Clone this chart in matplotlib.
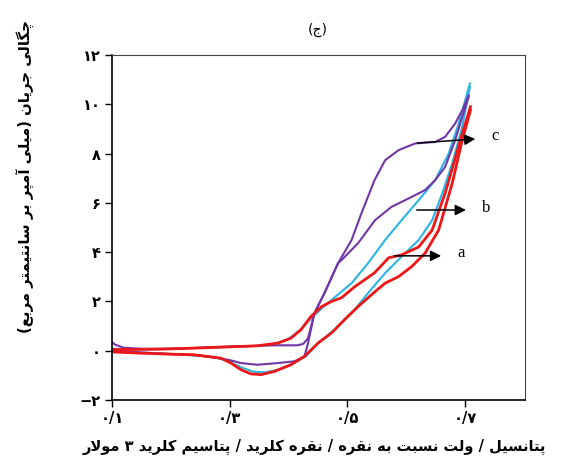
"""Cyclic voltammograms (a, b, c) with Persian labels."""

import matplotlib
matplotlib.use("Agg")
import matplotlib.pyplot as plt

# curve a (red), two branches
a_up_x = [0.10, 0.13, 0.176, 0.233, 0.29, 0.347, 0.382, 0.404, 0.421, 0.438, 0.456, 0.473, 0.49,
          0.512, 0.546, 0.570, 0.592, 0.621, 0.644, 0.666, 0.683, 0.695, 0.709]
a_up_y = [0.05, 0.05, 0.06, 0.10, 0.15, 0.20, 0.31, 0.51, 0.85, 1.39, 1.79, 2.00, 2.15,
          2.59, 3.16, 3.77, 3.89, 4.21, 4.90, 6.40, 7.80, 8.80, 9.90]
a_dn_x = [0.10, 0.15, 0.20, 0.238, 0.285, 0.302, 0.319, 0.336, 0.353, 0.376, 0.404, 0.427, 0.45,
          0.473, 0.495, 0.518, 0.547, 0.564, 0.587, 0.609, 0.632, 0.655, 0.678, 0.695, 0.709]
a_dn_y = [-0.05, -0.10, -0.14, -0.16, -0.30, -0.50, -0.77, -0.94, -0.97, -0.84, -0.57, -0.23, 0.31,
          0.72, 1.26, 1.79, 2.40, 2.74, 3.01, 3.41, 3.96, 4.90, 6.79, 8.54, 9.76]

# curve b (cyan)
b_up_x = [0.10, 0.15, 0.20, 0.25, 0.30, 0.35, 0.38, 0.40, 0.42, 0.44, 0.46, 0.48, 0.507,
          0.535, 0.564, 0.592, 0.621, 0.649, 0.672, 0.689, 0.708]
b_up_y = [0.08, 0.06, 0.08, 0.12, 0.15, 0.20, 0.30, 0.48, 0.85, 1.35, 1.80, 2.20, 2.74,
          3.55, 4.49, 5.30, 6.11, 6.92, 8.00, 9.22, 10.84]
b_dn_x = [0.10, 0.15, 0.20, 0.25, 0.28, 0.30, 0.32, 0.34, 0.36, 0.38, 0.40, 0.43, 0.45,
          0.48, 0.51, 0.535, 0.564, 0.592, 0.621, 0.644, 0.661, 0.678, 0.695, 0.708]
b_dn_y = [-0.03, -0.08, -0.14, -0.20, -0.30, -0.45, -0.68, -0.85, -0.88, -0.78, -0.60, -0.22, 0.30,
          0.90, 1.60, 2.34, 3.15, 3.82, 4.49, 5.30, 6.38, 7.60, 9.08, 10.70]

# curve c (purple)
c_up_x = [0.10, 0.105, 0.12, 0.15, 0.20, 0.25, 0.30, 0.35, 0.38, 0.40, 0.415, 0.425, 0.433,
          0.444, 0.461, 0.484, 0.507, 0.524, 0.546, 0.564, 0.587, 0.615, 0.649, 0.666, 0.683,
          0.695, 0.706]
c_up_y = [0.35, 0.25, 0.12, 0.08, 0.08, 0.12, 0.17, 0.20, 0.22, 0.22, 0.22, 0.28, 0.50,
          1.53, 2.34, 3.55, 4.49, 5.59, 6.92, 7.73, 8.14, 8.41, 8.47, 8.68, 9.22,
          9.76, 10.36]
c_dn_x = [0.10, 0.15, 0.20, 0.25, 0.28, 0.30, 0.319, 0.347, 0.382, 0.41, 0.427, 0.433, 0.444,
          0.461, 0.484, 0.49, 0.518, 0.547, 0.575, 0.604, 0.632, 0.649, 0.666, 0.683, 0.695, 0.706]
c_dn_y = [0.00, -0.07, -0.13, -0.20, -0.30, -0.38, -0.50, -0.57, -0.50, -0.43, -0.23, 0.30, 1.53,
          2.34, 3.55, 3.68, 4.36, 5.30, 5.84, 6.18, 6.52, 6.92, 7.46, 8.54, 9.49, 10.30]

x_ticks = [0.1, 0.3, 0.5, 0.7]
y_ticks = [-2, 0, 2, 4, 6, 8, 10, 12]

title = "(ج)"
y_label = "چگالی جریان (میلی آمپر بر سانتیمتر مربع)"
x_label = "پتانسیل / ولت نسبت به نقره / نقره کلرید / پتاسیم کلرید ۳ مولار"

# arrows: label, tail (x, y), head (x, y)
arrows = [
    ("c", (0.614, 8.42), (0.722, 8.60)),
    ("b", (0.613, 5.71), (0.706, 5.71)),
    ("a", (0.575, 3.85), (0.664, 3.85)),
]

# isolated, final, initial, medial
FORMS = {
    "ا": ("\uFE8D", "\uFE8E", None, None),
    "آ": ("\uFE81", "\uFE82", None, None),
    "د": ("\uFEA9", "\uFEAA", None, None),
    "ر": ("\uFEAD", "\uFEAE", None, None),
    "و": ("\uFEED", "\uFEEE", None, None),
    "ب": ("\uFE8F", "\uFE90", "\uFE91", "\uFE92"),
    "ت": ("\uFE95", "\uFE96", "\uFE97", "\uFE98"),
    "ج": ("\uFE9D", "\uFE9E", "\uFE9F", "\uFEA0"),
    "س": ("\uFEB1", "\uFEB2", "\uFEB3", "\uFEB4"),
    "ع": ("\uFEC9", "\uFECA", "\uFECB", "\uFECC"),
    "ق": ("\uFED5", "\uFED6", "\uFED7", "\uFED8"),
    "ل": ("\uFEDD", "\uFEDE", "\uFEDF", "\uFEE0"),
    "م": ("\uFEE1", "\uFEE2", "\uFEE3", "\uFEE4"),
    "ن": ("\uFEE5", "\uFEE6", "\uFEE7", "\uFEE8"),
    "ه": ("\uFEE9", "\uFEEA", "\uFEEB", "\uFEEC"),
    "پ": ("\uFB56", "\uFB57", "\uFB58", "\uFB59"),
    "چ": ("\uFB7A", "\uFB7B", "\uFB7C", "\uFB7D"),
    "ک": ("\uFB8E", "\uFB8F", "\uFB90", "\uFB91"),
    "گ": ("\uFB92", "\uFB93", "\uFB94", "\uFB95"),
    "ی": ("\uFBFC", "\uFBFD", "\uFBFE", "\uFBFF"),
}
LAM_ALEF = {"ا": ("\uFEFB", "\uFEFC"), "آ": ("\uFEF5", "\uFEF6")}
MIRROR = {"(": ")", ")": "("}


def joins_next(ch):
    return ch in FORMS and FORMS[ch][2] is not None


def shape(text):
    """Join letters and put them in visual (left to right) order."""
    out = []
    i = 0
    while i < len(text):
        ch = text[i]
        prev = text[i - 1] if i > 0 else ""
        nxt = text[i + 1] if i + 1 < len(text) else ""
        linked = joins_next(prev)
        if ch == "ل" and nxt in LAM_ALEF:
            out.append(LAM_ALEF[nxt][1 if linked else 0])
            i += 2
            continue
        if ch in FORMS:
            iso, fin, ini, med = FORMS[ch]
            to_next = ini is not None and nxt in FORMS
            if linked and to_next:
                out.append(med)
            elif linked:
                out.append(fin)
            elif to_next:
                out.append(ini)
            else:
                out.append(iso)
        else:
            out.append(MIRROR.get(ch, ch))
        i += 1
    return "".join(reversed(out))


def fa_num(v):
    s = ("%g" % v).replace("-", "\u2212").replace(".", "/")
    return s.translate(str.maketrans("0123456789", "۰۱۲۳۴۵۶۷۸۹"))


fig = plt.figure(figsize=(5.61, 4.66), dpi=100)
ax = fig.add_axes([0.1996, 0.1416, 0.7366, 0.7404])

ax.plot(b_up_x, b_up_y, color="#2ab4e4", lw=1.5)
ax.plot(b_dn_x, b_dn_y, color="#2ab4e4", lw=1.5)
ax.plot(c_up_x, c_up_y, color="#7236a6", lw=1.5)
ax.plot(c_dn_x, c_dn_y, color="#7236a6", lw=1.5)
ax.plot(a_up_x, a_up_y, color="#ee1616", lw=2.0)
ax.plot(a_dn_x, a_dn_y, color="#ee1616", lw=2.0)

for name, tail, head in arrows:
    ax.annotate("", xy=head, xytext=tail,
                arrowprops=dict(arrowstyle="-|>", color="black", lw=1.1, mutation_scale=16))
    ax.text(head[0] + 0.022, head[1] + 0.1, name, fontsize=12, family="Liberation Serif",
            va="center", ha="left")

ax.set_xlim(0.1, 0.802)
ax.set_ylim(-2, 12)
ax.set_xticks(x_ticks)
ax.set_xticklabels([fa_num(v) for v in x_ticks], fontsize=10.5, fontweight="bold")
ax.set_yticks(y_ticks)
ax.set_yticklabels([fa_num(v) for v in y_ticks], fontsize=10.5, fontweight="bold")
ax.tick_params(direction="out", length=5, width=1, pad=3)
for side in ["left", "bottom"]:
    ax.spines[side].set_linewidth(1.2)
for side in ["right", "top"]:
    ax.spines[side].set_color("#444444")

fig.text(0.567, 0.936, title, ha="center", va="center", fontsize=10)
fig.text(0.047, 0.622, shape(y_label), rotation=90, ha="center", va="center",
         fontsize=10.7, fontweight="bold")
fig.text(0.561, 0.041, shape(x_label), ha="center", va="center",
         fontsize=10.5, fontweight="bold")

fig.savefig("out.png", dpi=100)
